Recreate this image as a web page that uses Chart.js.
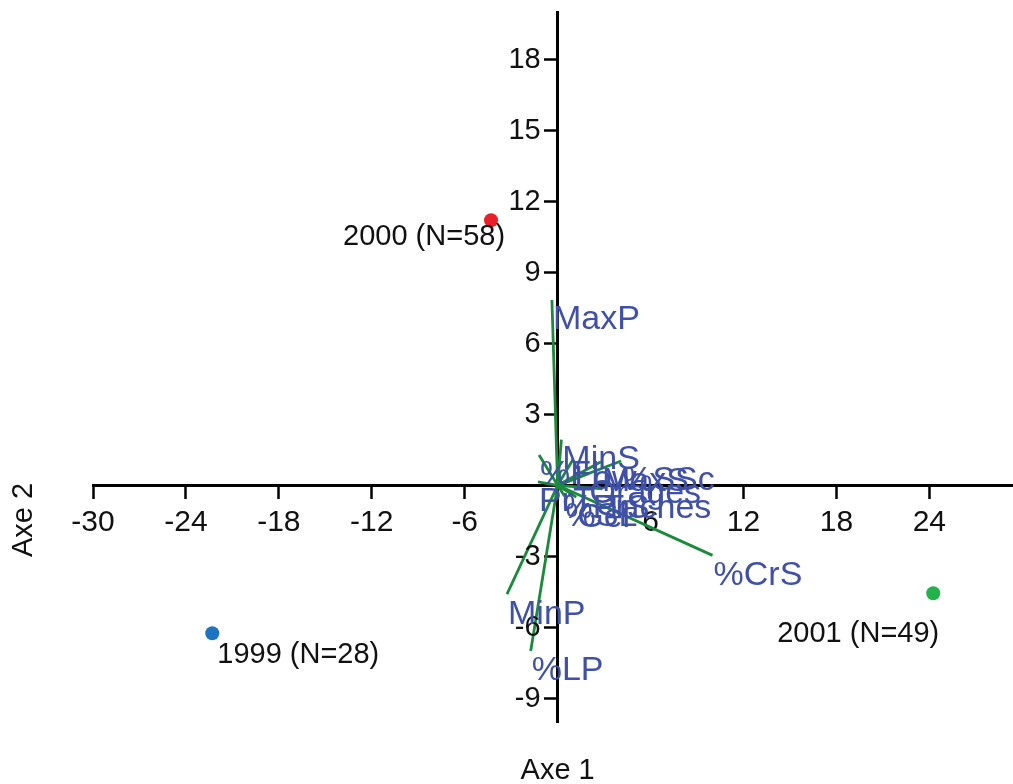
<!DOCTYPE html>
<html>
<head>
<meta charset="utf-8">
<script src="https://cdn.jsdelivr.net/npm/chart.js@4/dist/chart.umd.min.js"></script>
<style>
  html, body { margin: 0; padding: 0; background: #ffffff; overflow: hidden; }
  #wrap { width: 1013px; height: 784px; }
  canvas { display: block; }
</style>
</head>
<body>
<div id="wrap"><canvas id="c" width="1013" height="784"></canvas></div>
<script>
// ---- Data ----
const yearLabels = ['1999 (N=28)', '2000 (N=58)', '2001 (N=49)'];
const yearX = [-22.3, -4.3, 24.25];
const yearY = [-6.25, 11.2, -4.56];
const yearColors = ['#1f74c0', '#e8202a', '#22b24c'];

const varNames = ['MaxP', 'MinS', '%CrS', 'MinP', '%LP', '%FL', 'PrT', 'Low', 'MaxS', '%SSc', 'Orages', 'Taches', '%SL', '%PrS', 'Gel'];
const varX = [-0.37, 0.24, 10.0, -3.27, -1.74, -1.2, -1.27, 1.0, 2.8, 4.1, 2.0, 2.9, 0.45, 0.25, 1.2];
const varY = [7.83, 1.93, -2.96, -4.6, -7.0, 1.28, 0.15, 1.1, 1.0, 1.03, 0.5, -0.15, -0.46, -0.15, -0.5];

const xTickValues = [-30, -24, -18, -12, -6, 6, 12, 18, 24];
const yTickValues = [-9, -6, -3, 3, 6, 9, 12, 15, 18];
const xTitle = 'Axe 1';
const yTitle = 'Axe 2';

// label placement offsets (style only): [dx, dy, align]
const yearLabelPlace = [[5, 22, 'left'], [14, 17, 'right'], [6, 41, 'right']];

const FONT = '"Liberation Sans", Arial, sans-serif';

// ---- Datasets ----
const datasets = [];
varNames.forEach((n, i) => {
  datasets.push({
    label: n,
    data: [{x: 0, y: 0}, {x: varX[i], y: varY[i]}],
    showLine: true,
    borderColor: '#1b8a3c',
    borderWidth: 2.8,
    pointRadius: 0,
    fill: false
  });
});
datasets.push({
  label: 'years',
  data: yearX.map((v, i) => ({x: v, y: yearY[i]})),
  pointRadius: 7,
  pointBackgroundColor: yearColors,
  pointBorderColor: yearColors,
  pointBorderWidth: 0,
  showLine: false
});

const labelPlugin = {
  id: 'textLabels',
  afterDatasetsDraw(chart) {
    const ctx = chart.ctx;
    const xs = chart.scales.x, ys = chart.scales.y;
    ctx.save();
    // y tick labels (left of the central axis)
    const x0 = xs.getPixelForValue(0);
    ctx.font = '29px ' + FONT;
    ctx.fillStyle = '#111111';
    ctx.textAlign = 'right';
    ctx.textBaseline = 'middle';
    ys.ticks.forEach(t => {
      ctx.fillText(String(t.value), x0 - 17, ys.getPixelForValue(t.value) + 1);
    });
    // variable labels
    ctx.font = '34px ' + FONT;
    ctx.fillStyle = '#3f50a6';
    ctx.textAlign = 'left';
    ctx.textBaseline = 'top';
    varNames.forEach((n, i) => {
      const px = xs.getPixelForValue(varX[i]);
      const py = ys.getPixelForValue(varY[i]);
      ctx.fillText(n, px + 1, py + 3);
    });
    // year labels
    ctx.font = '29px ' + FONT;
    ctx.fillStyle = '#111111';
    ctx.textBaseline = 'middle';
    yearLabels.forEach((n, i) => {
      const px = xs.getPixelForValue(yearX[i]);
      const py = ys.getPixelForValue(yearY[i]);
      const p = yearLabelPlace[i];
      ctx.textAlign = p[2];
      ctx.fillText(n, px + p[0], py + p[1]);
    });
    // axis titles
    ctx.font = '29px ' + FONT;
    ctx.fillStyle = '#111111';
    ctx.textAlign = 'center';
    ctx.textBaseline = 'middle';
    ctx.fillText(xTitle, x0, 771);
    ctx.translate(24, 520);
    ctx.rotate(-Math.PI / 2);
    ctx.fillText(yTitle, 0, 0);
    ctx.restore();
  }
};

const noPad = s => { s.paddingLeft = 0; s.paddingRight = 0; s.paddingTop = 0; s.paddingBottom = 0; };

new Chart(document.getElementById('c'), {
  type: 'scatter',
  data: { datasets },
  options: {
    responsive: false,
    animation: false,
    layout: { autoPadding: false, padding: { left: 93, right: 0, top: 12, bottom: 62 } },
    plugins: { legend: { display: false }, tooltip: { enabled: false } },
    scales: {
      x: {
        type: 'linear',
        min: -30,
        max: 29.4,
        position: { y: 0 },
        afterBuildTicks: s => { s.ticks = xTickValues.map(v => ({ value: v })); },
        afterFit: noPad,
        grid: { drawOnChartArea: false, drawTicks: true, tickLength: 12, tickWidth: 2.5, color: '#000' },
        border: { display: true, color: '#000', width: 3 },
        ticks: { color: '#111', font: { family: FONT, size: 30 }, padding: 7, maxRotation: 0, autoSkip: false }
      },
      y: {
        type: 'linear',
        min: -10,
        max: 20,
        position: { x: 0 },
        afterBuildTicks: s => { s.ticks = yTickValues.map(v => ({ value: v })); },
        afterFit: noPad,
        grid: { drawOnChartArea: false, drawTicks: true, tickLength: 12, tickWidth: 2.5, color: '#000' },
        border: { display: true, color: '#000', width: 3 },
        ticks: { display: false, autoSkip: false }
      }
    }
  },
  plugins: [labelPlugin]
});
</script>
</body>
</html>
